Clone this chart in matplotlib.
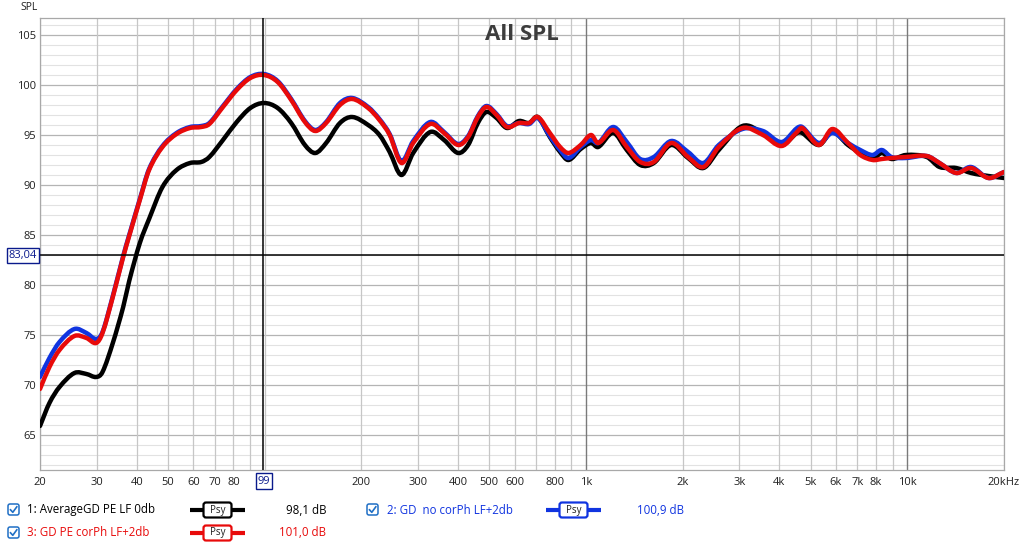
import math
import matplotlib
matplotlib.use("Agg")
import matplotlib.pyplot as plt
from matplotlib.patches import FancyBboxPatch, Rectangle, PathPatch
from matplotlib.lines import Line2D
from matplotlib.path import Path
from matplotlib.transforms import Affine2D

plt.rcParams['font.family'] = ['Open Sans', 'DejaVu Sans']

# ---------------- data ----------------
freq = [20, 21.4, 23.0, 25.6, 27.9, 29.9, 31.3, 33.7, 36.3, 37.9, 40.9, 43.7,
        48.1, 53.2, 58.6, 63.5, 67.3, 74.2, 81.9, 90.3, 99.5, 109.8, 121,
        133.5, 143.8, 155.4, 171.6, 187.5, 210, 227.7, 245, 266.6, 290, 327.8,
        361.8, 400, 430, 461, 490, 527, 568, 619, 666, 708, 772, 831, 883,
        963, 1037, 1092, 1216, 1340, 1476, 1626, 1842, 2079, 2320, 2590, 3070,
        3555, 4066, 4540, 4710, 5310, 5845, 6540, 7140, 7800, 8330, 8930,
        9900, 11500, 12600, 14200, 15800, 17900, 20000]

avg_gd = [65.9, 68.2, 69.8, 71.2, 71.1, 70.8, 71.3, 74.2, 77.8, 80.4, 84.2, 86.6,
          89.8, 91.5, 92.2, 92.3, 92.8, 94.5, 96.3, 97.7, 98.2, 97.7, 96.2,
          94.0, 93.2, 94.2, 96.2, 96.8, 96.0, 95.0, 93.3, 91.0, 93.2, 95.3,
          94.5, 93.2, 94.0, 96.2, 97.3, 96.7, 95.7, 96.4, 96.2, 96.8, 94.8, 93.3, 92.5,
          93.6, 94.2, 93.8, 95.2, 93.5, 92.0, 92.2, 94.0, 92.7, 91.7, 93.5, 95.9,
          95.2, 94.0, 95.2, 95.2, 94.0, 95.3, 94.0, 93.2, 92.6, 93.2, 92.6,
          93.0, 92.8, 91.8, 91.7, 91.2, 90.9, 90.7]

gd_no_corph = [70.8, 72.7, 74.3, 75.6, 75.2, 74.6, 75.3, 78.9, 82.9, 85.0, 88.6, 91.6,
               93.9, 95.2, 95.8, 95.9, 96.2, 97.9, 99.6, 100.8, 101.1, 100.4, 98.6,
               96.4, 95.5, 96.3, 98.2, 98.7, 97.8, 96.6, 95.1, 92.4, 94.4, 96.3,
               95.3, 94.1, 94.9, 96.9, 97.9, 97.1, 95.9, 96.2, 96.1, 96.7, 94.9, 93.5, 92.7,
               93.8, 94.5, 94.2, 95.8, 94.3, 92.6, 92.8, 94.4, 93.3, 92.2, 94.0, 95.6,
               95.4, 94.3, 95.7, 95.8, 94.2, 95.2, 94.2, 93.5, 93.0, 93.5, 92.8,
               92.7, 92.9, 92.2, 91.2, 91.8, 90.7, 91.3]

gd_pe_corph = [69.6, 71.8, 73.5, 74.9, 74.7, 74.2, 75.2, 78.8, 82.8, 84.9, 88.5, 91.5,
               93.8, 95.1, 95.7, 95.8, 96.1, 97.8, 99.5, 100.7, 101.0, 100.3, 98.5,
               96.3, 95.4, 96.2, 98.0, 98.6, 97.7, 96.5, 95.0, 92.2, 94.2, 96.1,
               95.2, 94.0, 94.8, 96.8, 97.8, 97.0, 95.8, 96.2, 96.2, 96.8, 95.2, 93.8, 93.2,
               94.0, 95.0, 94.2, 95.5, 93.8, 92.3, 92.3, 94.2, 92.8, 91.8, 93.8, 95.7,
               95.0, 93.9, 95.3, 95.7, 94.0, 95.6, 94.2, 93.0, 92.5, 92.6, 92.7,
               92.8, 92.9, 92.2, 91.2, 91.7, 90.7, 91.3]

series_names = ["1: AverageGD PE LF 0db", "2: GD  no corPh LF+2db", "3: GD PE corPh LF+2db"]
series_levels = ["98,1 dB", "100,9 dB", "101,0 dB"]
series_colors = ["#000000", "#1034e0", "#e80a0a"]

x_ticks = [20, 30, 40, 50, 60, 70, 80, 200, 300, 400, 500, 600, 800,
           1000, 2000, 3000, 4000, 5000, 6000, 7000, 8000, 10000, 20000]
x_tick_labels = ["20", "30", "40", "50", "60", "70", "80", "200", "300",
                 "400", "500", "600", "800", "1k", "2k", "3k", "4k", "5k", "6k",
                 "7k", "8k", "10k", "20kHz"]
y_ticks = [65, 70, 75, 80, 85, 90, 95, 100, 105]
y_tick_labels = ["65", "70", "75", "80", "85", "90", "95", "100", "105"]

cursor_freq = 99
cursor_level = 83.04
cursor_freq_label = "99"
cursor_level_label = "83,04"
title = "All SPL"
y_label = "SPL"


def smooth_path(xs, ys):
    """Smooth Bezier path through the read points (Hermite in log-frequency)."""
    u = [math.log10(x) for x in xs]
    n = len(u)
    m = []
    for i in range(n):
        if i == 0:
            m.append((ys[1] - ys[0]) / (u[1] - u[0]))
        elif i == n - 1:
            m.append((ys[-1] - ys[-2]) / (u[-1] - u[-2]))
        else:
            m.append((ys[i + 1] - ys[i - 1]) / (u[i + 1] - u[i - 1]))
    verts = [(xs[0], ys[0])]
    codes = [Path.MOVETO]
    for i in range(n - 1):
        h = u[i + 1] - u[i]
        verts += [(10 ** (u[i] + h / 3), ys[i] + m[i] * h / 3),
                  (10 ** (u[i + 1] - h / 3), ys[i + 1] - m[i + 1] * h / 3),
                  (xs[i + 1], ys[i + 1])]
        codes += [Path.CURVE4] * 3
    return Path(verts, codes)


# ---------------- figure ----------------
W, H = 1024, 543
fig = plt.figure(figsize=(W / 100, H / 100), dpi=100)
pix = Affine2D().scale(1 / W, -1 / H).translate(0, 1) + fig.transFigure

L, T, R, B = 40, 18, 1004, 470
ax = fig.add_axes([L / W, 1 - B / H, (R - L) / W, (B - T) / H])
ax.set_xscale("log")
ax.set_xlim(20, 20000)
ax.set_ylim(61.5, 106.7)

# grid
for v in range(62, 107):
    if v % 5 == 0:
        ax.axhline(v, color="#b4b4b4", lw=0.9, zorder=1)
    else:
        ax.axhline(v, color="#e2e2e2", lw=0.8, zorder=1)
for dec in (10, 100, 1000, 10000):
    for m in range(1, 10):
        f = dec * m
        if f < 20 or f > 20000:
            continue
        if m == 1 and dec in (1000, 10000):
            ax.axvline(f, color="#7a7a7a", lw=1.0, zorder=1.5)
        else:
            ax.axvline(f, color="#c6c6c6", lw=0.9, zorder=1.2)

# curves (black, blue, red on top)
for vals, col, z in ((avg_gd, series_colors[0], 3), (gd_no_corph, series_colors[1], 4),
                     (gd_pe_corph, series_colors[2], 5)):
    ax.add_patch(PathPatch(smooth_path(freq, vals), facecolor="none", edgecolor=col,
                           lw=3.2, capstyle="round", joinstyle="round", zorder=z))

# cursor
ax.axvline(cursor_freq, color="black", lw=1.1, zorder=6)
ax.axhline(cursor_level, color="black", lw=1.1, zorder=6)

for s in ax.spines.values():
    s.set_color("#a8a8a8")
    s.set_linewidth(0.9)

ax.set_xticks(x_ticks)
ax.set_xticklabels(x_tick_labels)
ax.xaxis.set_minor_locator(matplotlib.ticker.NullLocator())
ax.set_yticks(y_ticks)
ax.set_yticklabels(y_tick_labels)
ax.tick_params(axis="both", length=0, labelsize=8, colors="#202020")
ax.tick_params(axis="x", pad=5)
ax.tick_params(axis="y", pad=3)

# title and axis name
fig.text(522, 35, title, transform=pix, ha="center", va="center",
         fontsize=16, fontweight="bold", color="#3c3c3c")
fig.text(20, 8, y_label, transform=pix, ha="left", va="center",
         fontsize=7.5, color="#202020")

# cursor value boxes
navy = "#0a1a8c"
fig.patches.append(Rectangle((7, 248), 32, 15, transform=pix, facecolor="white",
                             edgecolor=navy, lw=1.0, zorder=10))
fig.text(23, 255.5, cursor_level_label, transform=pix, ha="center", va="center",
         fontsize=8, color=navy, zorder=11)
fig.patches.append(Rectangle((256, 473), 16, 16, transform=pix, facecolor="white",
                             edgecolor=navy, lw=1.0, zorder=10))
fig.text(264, 481, cursor_freq_label, transform=pix, ha="center", va="center",
         fontsize=8, color=navy, zorder=11)

# legend
def checkbox(x, y):
    fig.patches.append(FancyBboxPatch((x, y), 11, 11, transform=pix,
                                      boxstyle="round,pad=0,rounding_size=2",
                                      facecolor="white", edgecolor="#1f6fc5", lw=1.1))
    fig.lines.append(Line2D([x + 2.5, x + 4.8, x + 8.8], [y + 5.8, y + 8.3, y + 2.8],
                            transform=pix, color="#1f6fc5", lw=1.2))

def psy(x0, x1, y, color):
    fig.lines.append(Line2D([x0, x1], [y, y], transform=pix, color=color, lw=3,
                            solid_capstyle="butt"))
    bx = (x0 + x1) / 2 - 14
    fig.patches.append(FancyBboxPatch((bx, y - 7.5), 28, 15, transform=pix,
                                      boxstyle="round,pad=0,rounding_size=2.5",
                                      facecolor="white", edgecolor=color, lw=1.6,
                                      zorder=5))
    fig.text(bx + 14, y, "Psy", transform=pix, ha="center", va="center",
             fontsize=7, color="#202020", zorder=6)

rows = [(8, 27, 190, 245, 326, 510), (367, 387, 546, 601, 684, 510), (8, 27, 190, 245, 326, 533)]
for i, (cbx, tx, lx0, lx1, vx, ry) in enumerate(rows):
    checkbox(cbx, ry - 6)
    fig.text(tx, ry, series_names[i], transform=pix, ha="left", va="center",
             fontsize=8.3, color=series_colors[i] if i else "#000000")
    psy(lx0, lx1, ry, series_colors[i])
    fig.text(vx, ry, series_levels[i], transform=pix, ha="right", va="center",
             fontsize=8.3, color=series_colors[i] if i else "#000000")

fig.savefig("out.png", dpi=100)
